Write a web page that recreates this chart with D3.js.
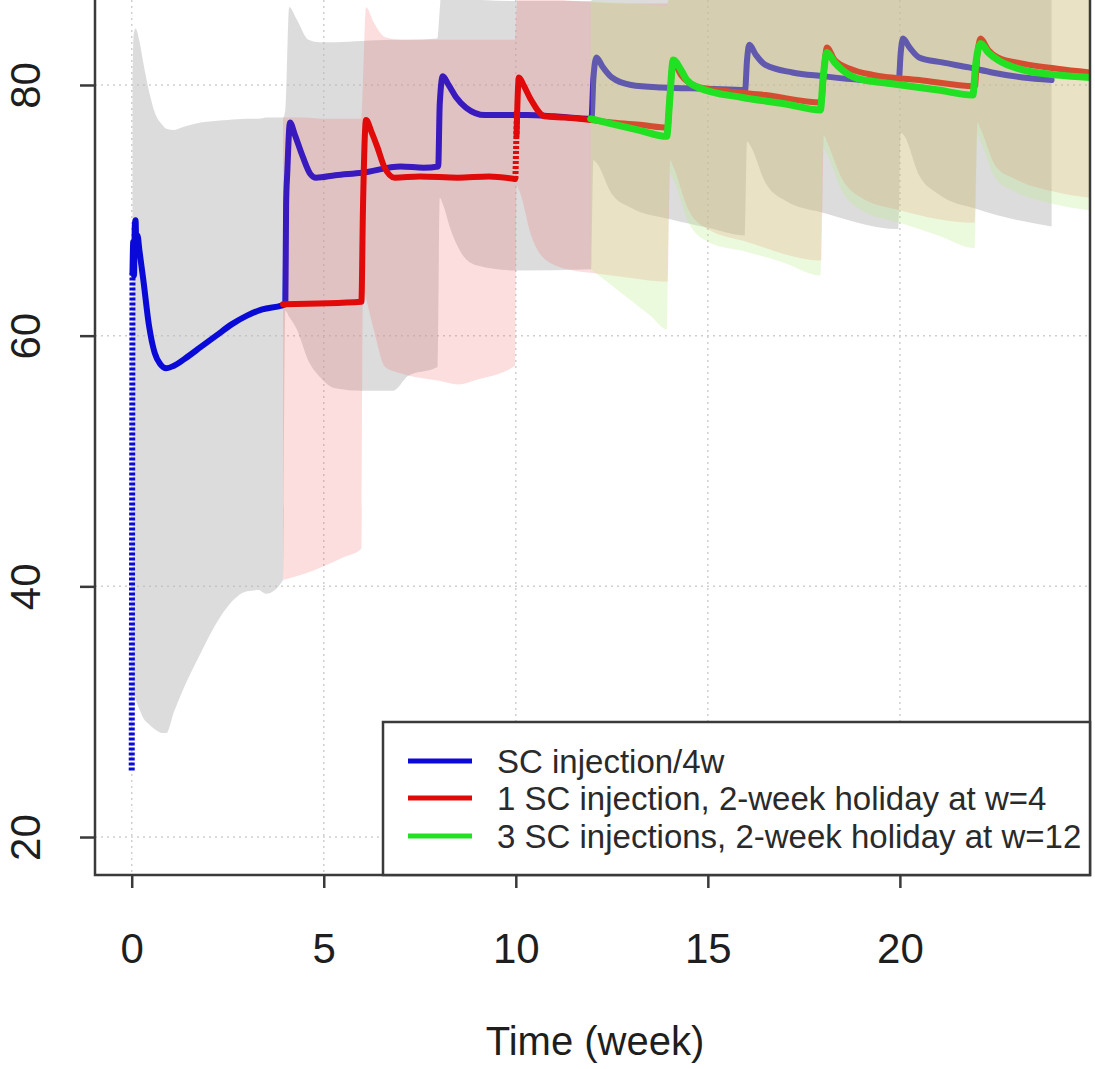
<!DOCTYPE html>
<html>
<head>
<meta charset="utf-8">
<script src="https://cdn.jsdelivr.net/npm/d3@7"></script>
<style>
  html, body { margin: 0; padding: 0; background: #fff; }
  svg { display: block; font-family: "Liberation Sans", Arial, sans-serif; }
</style>
</head>
<body>
<svg id="chart" width="1095" height="1069"></svg>
<script>
// ---------------- DATA ----------------
const xTicks = [0, 5, 10, 15, 20];
const yTicks = [20, 40, 60, 80];
const xTitle = "Time (week)";
const seriesNames = [
  "SC injection/4w",
  "1 SC injection, 2-week holiday at w=4",
  "3 SC injections, 2-week holiday at w=12"
];
const seriesColors = ["#0a0ad8", "#e00a0a", "#22e022"];

// dose jumps drawn dotted: [week, value]
const blueJump = [[0, 25.3], [0.02, 65.0]];
const redJump = [[9.99, 72.5], [10.03, 78.0]];

// median lines: [week, value]
const blueLine = [
  [0.02, 65.0], [0.04, 67.5], [0.06, 64.8], [0.08, 68.8], [0.1, 69.2], [0.12, 67.2], [0.15, 68.0],
  [0.2, 66.8], [0.3, 64.5], [0.45, 60.8], [0.6, 58.6], [0.75, 57.7], [0.9, 57.4], [1.1, 57.6],
  [1.4, 58.2], [1.8, 59.1], [2.2, 60.0], [2.6, 60.9], [3.0, 61.6], [3.4, 62.1], [3.9, 62.4],
  [4.0, 62.5], [4.02, 70.5], [4.05, 73.0], [4.12, 77.0], [4.25, 76.0], [4.45, 74.3], [4.65, 72.9],
  [4.8, 72.6], [5.3, 72.8], [6.0, 73.0], [7.0, 73.5], [7.6, 73.4], [7.98, 73.5],
  [8.02, 78.5], [8.1, 80.7], [8.25, 80.0], [8.45, 79.0], [8.7, 78.2], [9.2, 77.6], [10.3, 77.6],
  [11.0, 77.5], [11.97, 77.3],
  [12.02, 80.5], [12.1, 82.2], [12.25, 81.5], [12.5, 80.6], [13.0, 80.0], [13.8, 79.8], [15.0, 79.7],
  [15.97, 79.6],
  [16.02, 82.0], [16.08, 83.2], [16.25, 82.4], [16.5, 81.6], [17.2, 81.0], [18.0, 80.7], [19.0, 80.4],
  [19.97, 80.3],
  [20.02, 82.5], [20.08, 83.7], [20.25, 83.0], [20.5, 82.2], [21.1, 81.8], [21.8, 81.4], [22.4, 81.0],
  [23.2, 80.6], [23.95, 80.4]
];
const redLine = [
  [3.94, 62.5], [5.98, 62.7], [6.02, 70.0], [6.1, 77.2], [6.25, 76.2], [6.4, 75.0], [6.57, 73.5],
  [6.85, 72.6], [7.5, 72.7], [8.5, 72.6], [9.3, 72.7], [9.98, 72.5],
  [10.02, 76.0], [10.08, 80.6], [10.2, 80.0], [10.4, 78.8], [10.75, 77.5], [11.3, 77.4], [11.97, 77.2],
  [12.5, 77.0], [13.3, 76.8], [13.95, 76.6],
  [14.02, 79.5], [14.1, 81.8], [14.3, 80.8], [14.7, 79.9], [15.5, 79.5], [16.5, 79.2], [17.95, 78.6],
  [18.02, 81.0], [18.1, 83.0], [18.3, 82.0], [18.7, 81.3], [19.3, 80.8], [20.5, 80.4], [21.95, 79.9],
  [22.02, 82.5], [22.1, 83.7], [22.3, 82.8], [22.55, 82.2], [23.2, 81.7], [24.1, 81.3], [24.95, 81.0]
];
const greenLine = [
  [11.95, 77.3], [12.5, 76.9], [13.2, 76.4], [13.93, 75.9],
  [14.0, 78.5], [14.1, 82.0], [14.3, 81.2], [14.45, 80.4], [14.75, 79.8], [15.9, 79.0], [17.0, 78.5],
  [17.93, 78.0],
  [18.0, 80.5], [18.1, 82.6], [18.3, 81.8], [18.5, 81.2], [18.9, 80.5], [19.8, 80.1], [21.0, 79.6],
  [21.9, 79.2],
  [21.97, 81.5], [22.1, 83.3], [22.3, 82.6], [22.55, 82.0], [23.2, 81.2], [24.1, 80.8], [24.95, 80.6]
];

// prediction intervals: [week, lower, upper]
const blueBand = [
  [0.02, 32, 80], [0.05, 31.5, 84], [0.1, 31, 84.5], [0.2, 30.2, 83.5], [0.3, 29.5, 81.8],
  [0.45, 29, 79.5], [0.6, 28.6, 77.8], [0.8, 28.3, 76.8], [0.9, 28.3, 76.5], [1.1, 30, 76.4],
  [1.3, 31.5, 76.6], [1.8, 34.7, 77], [2.1, 36.5, 77.1], [2.5, 38.4, 77.2], [3.0, 39.6, 77.3],
  [3.3, 39.7, 77.3], [3.5, 39.4, 77.4], [3.94, 40.5, 77.4],
  [4.0, 62, 78], [4.1, 61.5, 86.2], [4.3, 60.5, 85.2], [4.6, 58, 83.6], [4.9, 56.7, 83.4],
  [5.3, 55.8, 83.4], [6.0, 55.6, 83.5], [6.8, 55.6, 83.6], [7.2, 56.8, 83.6], [7.96, 57.5, 83.7],
  [8.02, 71, 86], [8.1, 70.5, 89], [8.3, 68.5, 88], [8.6, 66.5, 87], [9.0, 65.6, 86.8],
  [10.0, 65.2, 86.7], [11.96, 65.3, 86.7],
  [12.02, 74, 87.5], [12.1, 73.8, 90], [12.5, 71.3, 89], [13.0, 70.2, 88], [14.0, 69.3, 87.8],
  [15.0, 68.6, 87.8], [15.96, 68, 87.8],
  [16.02, 75.5, 89], [16.1, 75.2, 91], [16.5, 72.2, 89], [17.0, 70.8, 88.5], [18.0, 69.8, 88.3],
  [19.96, 68.5, 88.3],
  [20.02, 76.2, 89], [20.1, 76, 91], [20.5, 72.8, 89.5], [21.0, 71.3, 89], [22.0, 70.1, 88.8],
  [23.95, 68.7, 88.8]
];
const redBand = [
  [3.94, 40.5, 77.4], [4.5, 41, 77.4], [5.0, 41.6, 77.3], [5.5, 42.3, 77.3], [5.98, 43, 77.3],
  [6.02, 64, 80], [6.1, 63, 86.2], [6.3, 60.5, 85], [6.6, 57.5, 83.8], [7.0, 57, 83.6],
  [8.0, 56.4, 83.6], [8.5, 56.1, 83.6], [9.0, 56.5, 83.6], [9.98, 57.6, 83.6],
  [10.02, 72, 86], [10.1, 71.5, 89], [10.4, 68, 88], [10.8, 66, 87], [11.5, 65.2, 86.7],
  [12.0, 65, 86.6], [13.0, 64.6, 86.5], [13.95, 64.3, 86.5],
  [14.02, 74, 88], [14.1, 73.5, 90], [14.5, 70, 89], [15.0, 68.5, 88.5], [16.0, 67.5, 88.2],
  [17.95, 66, 88],
  [18.02, 76, 89], [18.1, 75.5, 91], [18.5, 72.5, 89.5], [19.0, 71, 89], [20.0, 70, 88.8],
  [21.95, 69, 88.6],
  [22.02, 77, 89], [22.1, 76.5, 91], [22.5, 73.5, 90], [23.0, 72.5, 89.5], [24.0, 71.5, 89.2],
  [24.95, 71, 89]
];
const greenBand = [
  [11.95, 65.3, 86.7], [12.5, 64, 86.6], [13.0, 62.8, 86.5], [13.5, 61.6, 86.4], [13.93, 60.5, 86.3],
  [14.0, 73, 88], [14.1, 72.5, 90], [14.5, 69, 89], [15.0, 67.5, 88.5], [16.0, 66.7, 88.2],
  [17.0, 65.8, 88], [17.93, 64.8, 88],
  [18.0, 75, 89], [18.1, 74.5, 91], [18.5, 71.5, 89.5], [19.0, 70, 89], [20.0, 69, 88.8],
  [21.0, 68, 88.7], [21.95, 67, 88.6],
  [22.02, 76, 89], [22.1, 75.5, 91], [22.5, 72.5, 90], [23.0, 71.5, 89.5], [24.0, 70.5, 89.2],
  [24.95, 70, 89]
];

// ---------------- LAYOUT ----------------
const svg = d3.select("#chart");
const plot = { left: 95, right: 1090, top: 0, bottom: 875 };

const x = d3.scaleLinear().domain([-0.956, 24.95]).range([plot.left, plot.right]);
const y = d3.scaleLinear().domain([16.97, 86.78]).range([plot.bottom, plot.top]);

svg.append("defs").append("clipPath").attr("id", "clip")
  .append("rect")
  .attr("x", plot.left).attr("y", plot.top)
  .attr("width", plot.right - plot.left).attr("height", plot.bottom - plot.top);

// grid
const grid = svg.append("g").attr("clip-path", "url(#clip)");
grid.selectAll("line.gx").data(xTicks).join("line")
  .attr("x1", d => x(d)).attr("x2", d => x(d))
  .attr("y1", plot.top).attr("y2", plot.bottom)
  .attr("stroke", "#cfcfcf").attr("stroke-width", 1.5).attr("stroke-dasharray", "2,4");
grid.selectAll("line.gy").data(yTicks).join("line")
  .attr("x1", plot.left).attr("x2", plot.right)
  .attr("y1", d => y(d)).attr("y2", d => y(d))
  .attr("stroke", "#cfcfcf").attr("stroke-width", 1.5).attr("stroke-dasharray", "2,4");

const area = d3.area().x(d => x(d[0])).y0(d => y(d[1])).y1(d => y(d[2])).curve(d3.curveMonotoneX);
const line = d3.line().x(d => x(d[0])).y(d => y(d[1])).curve(d3.curveMonotoneX);

const g = svg.append("g").attr("clip-path", "url(#clip)");

function drawLine(data, color, width) {
  g.append("path").attr("d", line(data)).attr("fill", "none")
    .attr("stroke", color).attr("stroke-width", width)
    .attr("stroke-linejoin", "round").attr("stroke-linecap", "round");
}
function drawJump(data, color, width) {
  g.append("path").attr("d", line(data)).attr("fill", "none")
    .attr("stroke", color).attr("stroke-width", width).attr("stroke-dasharray", "3,2");
}

// gray band + blue line
g.append("path").attr("d", area(blueBand)).attr("fill", "rgba(185,185,185,0.5)");
drawJump(blueJump, seriesColors[0], 6);
drawLine(blueLine, seriesColors[0], 6);

// red band + red line
g.append("path").attr("d", area(redBand)).attr("fill", "rgba(240,90,90,0.2)");
drawLine(redLine.filter(d => d[0] < 10), seriesColors[1], 6);
drawJump(redJump, seriesColors[1], 6);
drawLine(redLine.filter(d => d[0] > 10), seriesColors[1], 6);

// green band + green line
g.append("path").attr("d", area(greenBand)).attr("fill", "rgba(190,235,140,0.3)");
drawLine(greenLine, seriesColors[2], 7);

// axes
const axisColor = "#3a3a3a";
const xAxis = svg.append("g").attr("transform", `translate(0,${plot.bottom})`)
  .call(d3.axisBottom(x).tickValues(xTicks).tickSize(13).tickPadding(45).tickFormat(d3.format("d")));
xAxis.select(".domain").remove();
xAxis.selectAll(".tick line").attr("stroke", axisColor).attr("stroke-width", 2.5);
xAxis.selectAll(".tick text").attr("font-size", 42).attr("fill", "#1e1e1e")
  .attr("font-family", "Liberation Sans, Arial, sans-serif");

const yAxis = svg.append("g").attr("transform", `translate(${plot.left},0)`)
  .call(d3.axisLeft(y).tickValues(yTicks).tickSize(15).tickFormat(d3.format("d")));
yAxis.select(".domain").remove();
yAxis.selectAll(".tick line").attr("stroke", axisColor).attr("stroke-width", 2.5);
yAxis.selectAll(".tick text")
  .attr("transform", "rotate(-90)")
  .attr("x", 0).attr("y", -55).attr("dy", 0)
  .attr("text-anchor", "middle")
  .attr("font-size", 42).attr("fill", "#1e1e1e")
  .attr("font-family", "Liberation Sans, Arial, sans-serif");

// frame (left, bottom, right)
svg.append("path")
  .attr("d", `M${plot.left},${plot.top} V${plot.bottom} H${plot.right} V${plot.top}`)
  .attr("fill", "none").attr("stroke", axisColor).attr("stroke-width", 2.5);

// x title
svg.append("text").attr("x", 595).attr("y", 1055).attr("text-anchor", "middle")
  .attr("font-size", 40).attr("fill", "#1e1e1e").text(xTitle);

// legend
const leg = svg.append("g");
leg.append("rect").attr("x", 383).attr("y", 722).attr("width", 1090 - 383).attr("height", 875 - 722)
  .attr("fill", "#fff").attr("stroke", axisColor).attr("stroke-width", 2.5);
const legY = [761, 798, 836];
seriesNames.forEach((name, i) => {
  leg.append("line").attr("x1", 408).attr("x2", 472).attr("y1", legY[i]).attr("y2", legY[i])
    .attr("stroke", seriesColors[i]).attr("stroke-width", 5);
  leg.append("text").attr("x", 497).attr("y", legY[i] + 12)
    .attr("font-size", 33).attr("fill", "#2a2a2a").text(name);
});
</script>
</body>
</html>
